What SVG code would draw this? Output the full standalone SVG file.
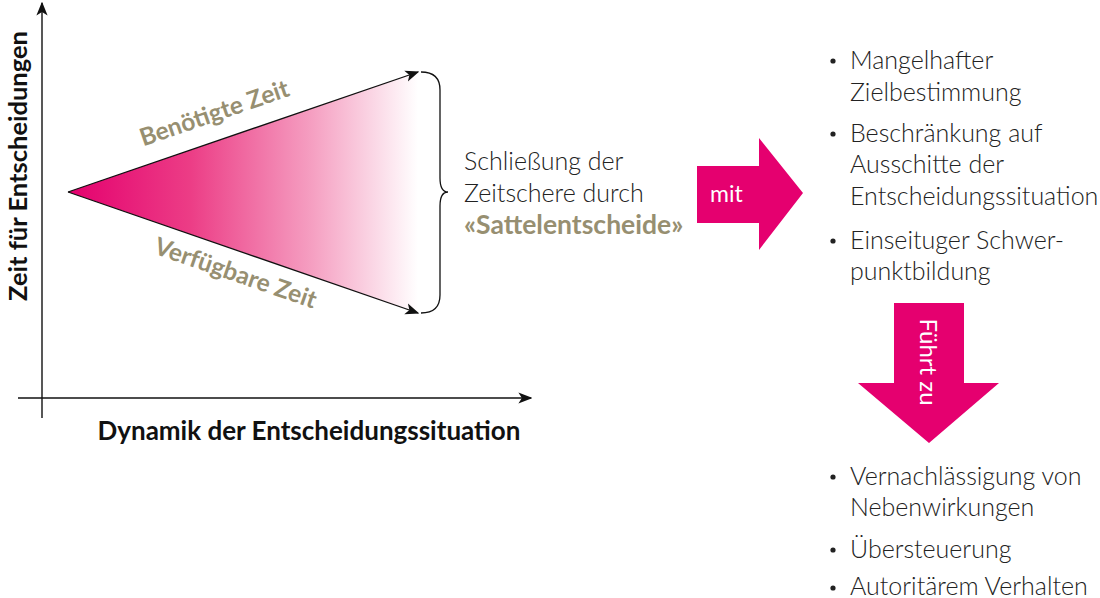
<svg xmlns="http://www.w3.org/2000/svg" width="1100" height="598" viewBox="0 0 1100 598">
<defs>
<linearGradient id="fade" x1="68" y1="0" x2="418" y2="0" gradientUnits="userSpaceOnUse">
<stop offset="0" stop-color="#e4006e"/>
<stop offset="0.35" stop-color="#ec3d86"/>
<stop offset="0.7" stop-color="#f5a0c2"/>
<stop offset="1" stop-color="#ffffff"/>
</linearGradient>
<marker id="ah" viewBox="0 0 10 10" refX="9" refY="5" markerWidth="14" markerHeight="14" markerUnits="userSpaceOnUse" orient="auto">
<path d="M0,1 L10,5 L0,9 L2.5,5 Z" fill="#111"/>
</marker>
</defs>
<style>
.ax{stroke:#111;stroke-width:1.4;fill:none}
.edge{stroke:#111;stroke-width:1.3;fill:none}
.axlbl{font-family:Lato,"Liberation Sans",sans-serif;font-weight:700;font-size:25.5px;fill:#111}
.olive{font-family:Lato,"Liberation Sans",sans-serif;font-weight:700;font-size:24.5px;fill:#978f71}
.body{font-family:Lato,"Open Sans",sans-serif;font-weight:300;font-size:25px;fill:#222}
.white{font-family:Lato,"Open Sans",sans-serif;font-weight:400;font-size:23px;fill:#ffffff}
.pink{fill:#e5006f}
.dot{fill:#222}
</style>
<g id="triangle">
<polygon points="68,192 418,72 418,313" fill="url(#fade)"/>
</g>
<g id="connectors">
<line class="ax" x1="42" y1="418" x2="42" y2="3" marker-end="url(#ah)"/>
<line class="ax" x1="18" y1="398" x2="531" y2="398" marker-end="url(#ah)"/>
<line class="edge" x1="68" y1="192" x2="418" y2="72" marker-end="url(#ah)"/>
<line class="edge" x1="68" y1="192" x2="418" y2="313" marker-end="url(#ah)"/>
<path class="edge" d="M421,72 Q440,72 440,90 L440,178 Q440,192 448,192 Q440,192 440,206 L440,295 Q440,313 421,313"/>
</g>
<g id="axis-y-label"><text class="axlbl" transform="translate(27,166) rotate(-90)" text-anchor="middle" style="font-size:25.5px">Zeit für Entscheidungen</text></g>
<g id="axis-x-label"><text class="axlbl" x="309" y="440" text-anchor="middle" style="font-size:26px">Dynamik der Entscheidungssituation</text></g>
<g id="label-benoetigt"><text class="olive" transform="translate(217,121) rotate(-19)" text-anchor="middle">Benötigte Zeit</text></g>
<g id="label-verfuegbar"><text class="olive" transform="translate(233,281) rotate(19)" text-anchor="middle">Verfügbare Zeit</text></g>
<g id="schliessung">
<text class="body" x="464" y="170">Schließung der</text>
<text class="body" x="464" y="202">Zeitschere durch</text>
<text class="olive" x="464" y="234" style="font-size:26.5px">«Sattelentscheide»</text>
</g>
<g id="arrow-mit">
<polygon class="pink" points="697,166 759,166 759,138 803,193 759,250 759,223 697,223"/>
<text class="white" x="710" y="202">mit</text>
</g>
<g id="list-top">
<circle class="dot" cx="833" cy="61" r="2.6"/>
<text class="body" x="850" y="69">Mangelhafter</text>
<text class="body" x="850" y="101">Zielbestimmung</text>
<circle class="dot" cx="833" cy="134" r="2.6"/>
<text class="body" x="850" y="142">Beschränkung auf</text>
<text class="body" x="850" y="173">Ausschitte der</text>
<text class="body" x="850" y="205">Entscheidungssituation</text>
<circle class="dot" cx="833" cy="241" r="2.6"/>
<text class="body" x="850" y="249">Einseituger Schwer-</text>
<text class="body" x="850" y="280">punktbildung</text>
</g>
<g id="arrow-fuehrt">
<polygon class="pink" points="894,303 964,303 964,383 999,383 929,443 858,383 894,383"/>
<text class="white" transform="translate(920,362) rotate(90)" text-anchor="middle" style="font-size:24px">Führt zu</text>
</g>
<g id="list-bottom">
<circle class="dot" cx="833" cy="477" r="2.6"/>
<text class="body" x="850" y="485">Vernachlässigung von</text>
<text class="body" x="850" y="516">Nebenwirkungen</text>
<circle class="dot" cx="833" cy="550" r="2.6"/>
<text class="body" x="850" y="558">Übersteuerung</text>
<circle class="dot" cx="833" cy="588" r="2.6"/>
<text class="body" x="850" y="595">Autoritärem Verhalten</text>
</g>
</svg>
